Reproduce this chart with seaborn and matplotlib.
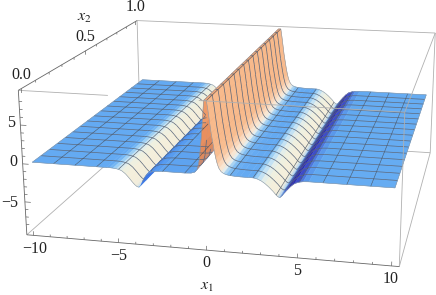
import numpy as np
import matplotlib
matplotlib.use('Agg')
import matplotlib.pyplot as plt
from matplotlib.colors import to_rgba
from matplotlib.path import Path
from mpl_toolkits.mplot3d import proj3d
from mpl_toolkits.mplot3d.art3d import Line3DCollection
import seaborn as sns

# profile of the surface along x1 (same along x2)
x1_vals = [-10, -8.75, -7.5, -6.25, -5.7, -5.5, -5.3, -5.1, -5.0, -4.9, -4.8, -4.6, -4.4, -4.2, -4.05, -3.95, -3.85,
           -3.75, -3.65, -3.55, -3.4, -3.2, -3.0, -2.7, -2.5, -1.25, -0.9, -0.7, -0.55, -0.45, -0.35, -0.25, -0.15,
           0.0, 0.08, 0.16, 0.24, 0.32, 0.4, 0.48, 0.56, 0.64, 0.76, 0.9, 1.05, 1.25, 1.5, 1.8, 2.2,
           2.5, 2.6, 2.75, 2.95, 3.15, 3.35, 3.6, 3.75, 3.85, 3.95, 4.05, 4.2, 4.35, 4.55, 4.75, 5.0, 5.2, 5.5,
           6.25, 7.5, 8.75, 10]
z_vals = [0, 0, 0, 0, 0, 0, -0.02, -0.08, -0.14, -0.2, -0.3, -0.65, -1.15, -1.7, -2.05, -2.2, -2.25,
          -2.0, -1.5, -1.05, -0.55, -0.22, -0.08, -0.02, 0, 0, 0.05, 0.2, 0.6, 1.5, 3.5, 6.0, 9.2,
          9.2, 8.0, 6.6, 5.2, 4.1, 3.0, 2.1, 1.4, 0.9, 0.5, 0.28, 0.16, 0.08, 0.04, 0.01, 0,
          0, -0.03, -0.12, -0.32, -0.62, -1.0, -1.55, -1.95, -2.15, -2.25, -2.05, -1.6, -1.2, -0.7, -0.33, -0.12, -0.04, 0,
          0, 0, 0, 0]
col_vals = ['#64aaf2', '#64aaf2', '#64aaf2', '#64aaf2', '#64aaf2', '#74b6f3', '#9dcff4', '#c4e2f4', '#d8eaf0', '#e4eeea',
            '#eff0e0', '#f4efdc', '#f4eedb', '#f2eddc', '#e8e9df', '#cfe0ea', '#7fb0e8',
            '#3e78e6', '#3570e4', '#3f7ce8', '#4888ec', '#5092ee', '#589cf0', '#5ea3f0', '#5ea3f0', '#5ea3f0',
            '#5ea3f0', '#6a9fe0', '#c98a70', '#e08a5c', '#e98f5e', '#ee9a68', '#f4a878',
            '#f8ba8c', '#f8ba8c', '#f8ba8c', '#f8ba8c', '#f8ba8c', '#f8bd90', '#f9c8a2', '#fad8bc', '#f8e6d2', '#e4ecec',
            '#a9d3f2', '#82bef3', '#6cafF2', '#66abf2', '#64aaf2', '#64aaf2',
            '#74b6f3', '#9dcff4', '#c4e2f4', '#e4eeea', '#eff0e0', '#f4efdc', '#f4eedb', '#e8e9df', '#c4dcec', '#7ea6e6',
            '#3f78e0', '#3a50d0', '#2a2aa8', '#2e2fb0', '#3e4cc8', '#4f76dc', '#5a98ea', '#62a9f0',
            '#66acf2', '#66acf2', '#66acf2', '#66acf2']

x2_vals = [0, 0.0625, 0.125, 0.1875, 0.25, 0.3125, 0.375, 0.4375, 0.5, 0.5625, 0.625, 0.6875, 0.75, 0.8125, 0.875,
           0.9375, 1]
mesh_x1 = [-8.75, -7.5, -6.25, -5, -3.75, -2.5, -1.25, 0, 1.25, 2.5, 3.75, 5, 6.25, 7.5, 8.75]

x1_major = [-10, -5, 0, 5, 10]
x1_minor = [-9, -8, -7, -6, -4, -3, -2, -1, 1, 2, 3, 4, 6, 7, 8, 9]
x2_major = [0, 0.5, 1]
x2_minor = [0.1, 0.2, 0.3, 0.4, 0.6, 0.7, 0.8, 0.9]
z_major = [-5, 0, 5]
z_minor = [-8, -7, -6, -4, -3, -2, -1, 1, 2, 3, 4, 6, 7, 8]

# text, position in pixels from the top left
labels = [('1.0', 136, 7), ('0.5', 85, 37), ('0.0', 21, 75), (r'$x_2$', 84, 17),
          ('5', 11, 123), ('0', 13, 162), ('\u22125', 10, 203),
          ('\u221210', 35, 249), ('\u22125', 119, 256), ('0', 206, 263), ('5', 297, 271), ('10', 391, 279),
          (r'$x_1$', 207, 286)]

XL, YL0, YL1, ZL = 10.4, -0.02, 1.02, 9.4

sns.set_theme(style='white')
plt.rcParams['font.family'] = ['Liberation Serif', 'DejaVu Sans']
plt.rcParams['mathtext.fontset'] = 'stix'

fig = plt.figure(figsize=(4.36, 2.95), dpi=100)
ax = fig.add_axes([2.03 / 436, -76.81 / 295, 480.2 / 436, 480.2 / 295], projection='3d', computed_zorder=False)
ax.set_axis_off()
ax.set_xlim(-XL, XL)
ax.set_ylim(YL0, YL1)
ax.set_zlim(-ZL, ZL)
ax.view_init(15.981, -76.957, 0.166)
ax.set_proj_type('persp', focal_length=0.449)
ax.set_box_aspect((1.02, 1, 0.409))

x1 = np.array(x1_vals, dtype=float)
x2 = np.array(x2_vals, dtype=float)
prof = np.array(z_vals, dtype=float)
X, Y = np.meshgrid(x1, x2)
Z = np.tile(prof, (len(x2), 1))
rgba = np.array([to_rgba(c) for c in col_vals])
fc = np.tile(rgba, (len(x2), 1, 1))

surf = ax.plot_surface(X, Y, Z, facecolors=fc, rstride=1, cstride=1, shade=False, linewidth=0.3, zorder=2)
surf.set_edgecolor(surf._facecolor3d)

# box
back_lines = [[(-XL, YL1, ZL), (-XL, YL1, -ZL)], [(-XL, YL0, -ZL), (-XL, YL1, -ZL)], [(-XL, YL1, -ZL), (XL, YL1, -ZL)],
              [(-XL, YL1, ZL), (XL, YL1, ZL)], [(XL, YL1, ZL), (XL, YL1, -ZL)]]
front_lines = [[(-XL, YL0, ZL), (-5.3, YL0, ZL)], [(-0.3, YL0, ZL), (XL, YL0, ZL)], [(XL, YL0, ZL), (XL, YL1, ZL)],
               [(XL, YL0, ZL), (XL, YL0, -ZL)], [(XL, YL0, -ZL), (XL, YL1, -ZL)]]
axis_lines = [[(-XL, YL0, -ZL), (XL, YL0, -ZL)], [(-XL, YL0, -ZL), (-XL, YL0, ZL)], [(-XL, YL0, ZL), (-XL, YL1, ZL)]]
ax.add_collection3d(Line3DCollection(back_lines, colors='#b0b0b0', linewidths=0.6, zorder=1), autolim=False)
ax.add_collection3d(Line3DCollection(front_lines, colors='#b0b0b0', linewidths=0.6, zorder=4), autolim=False)
ax.add_collection3d(Line3DCollection(axis_lines, colors='#666666', linewidths=0.6, zorder=4), autolim=False)

# ticks
tick_segs = []
for v in x1_major:
    tick_segs.append([(v, YL0, -ZL), (v, YL0, -ZL + 0.55)])
for v in x1_minor:
    tick_segs.append([(v, YL0, -ZL), (v, YL0, -ZL + 0.3)])
for v in z_major:
    tick_segs.append([(-XL, YL0, v), (-XL + 0.35, YL0, v)])
for v in z_minor:
    tick_segs.append([(-XL, YL0, v), (-XL + 0.18, YL0, v)])
for v in x2_major:
    tick_segs.append([(-XL, v, ZL), (-XL, v, ZL - 0.55)])
for v in x2_minor:
    tick_segs.append([(-XL, v, ZL), (-XL, v, ZL - 0.3)])
ax.add_collection3d(Line3DCollection(tick_segs, colors='#666666', linewidths=0.5, zorder=4), autolim=False)


def to_px(xs, ys, zs):
    px, py, _ = proj3d.proj_transform(np.asarray(xs, float), np.asarray(ys, float), np.asarray(zs, float), ax.get_proj())
    return ax.transData.transform(np.column_stack([px, py]))


def quad(a, za, b, zb):
    return Path(to_px([a, a, b, b], [0, 1, 1, 0], [za, za, zb, zb]))


# parts of the mesh that sit behind the tall ridge or the wall of the left dip
peak_path = quad(-0.15, 9.2, 0.64, 0.9)
wall_path = quad(-3.2, -0.22, -3.85, -2.25)


def visible(xs, ys, zs):
    pts = to_px(xs, ys, zs)
    xs = np.asarray(xs, float)
    hidden = (peak_path.contains_points(pts) & (xs < -0.15)) | (wall_path.contains_points(pts) & (xs < -3.3))
    return ~hidden


def visible_segs(line):
    vis = visible(line[:, 0], line[:, 1], line[:, 2])
    return [[line[i], line[i + 1]] for i in range(len(line) - 1) if vis[i] and vis[i + 1]]


x2_segs = []
for v in x2_vals[1:-1]:
    x2_segs += visible_segs(np.column_stack([x1, np.full(len(x1), v), prof]))
ax.add_collection3d(Line3DCollection(x2_segs, colors='#5a667a', linewidths=0.5, zorder=3), autolim=False)

x1_segs = []
fine_x2 = np.linspace(0, 1, 81)
for v in mesh_x1:
    zv = np.interp(v, x1, prof)
    x1_segs += visible_segs(np.column_stack([np.full(len(fine_x2), v), fine_x2, np.full(len(fine_x2), zv)]))
ax.add_collection3d(Line3DCollection(x1_segs, colors='#44505f', linewidths=0.4, zorder=3), autolim=False)

# outline of the surface and the cut along the ridge
edge_segs = []
for v in [0, 1]:
    edge_segs += visible_segs(np.column_stack([x1, np.full(len(x1), v), prof]))
edge_segs.append([(-0.15, 0, 9.2), (-0.15, 1, 9.2)])
edge_segs.append([(-10, 0, 0), (-10, 1, 0)])
edge_segs.append([(10, 0, 0), (10, 1, 0)])
ax.add_collection3d(Line3DCollection(edge_segs, colors='#8494a4', linewidths=0.4, zorder=3), autolim=False)

for s, px, py in labels:
    fig.text(px / 436, 1 - py / 295, s, ha='center', va='center', fontsize=11.5, color='#222222')

fig.savefig('out.png', dpi=100, facecolor='white')
